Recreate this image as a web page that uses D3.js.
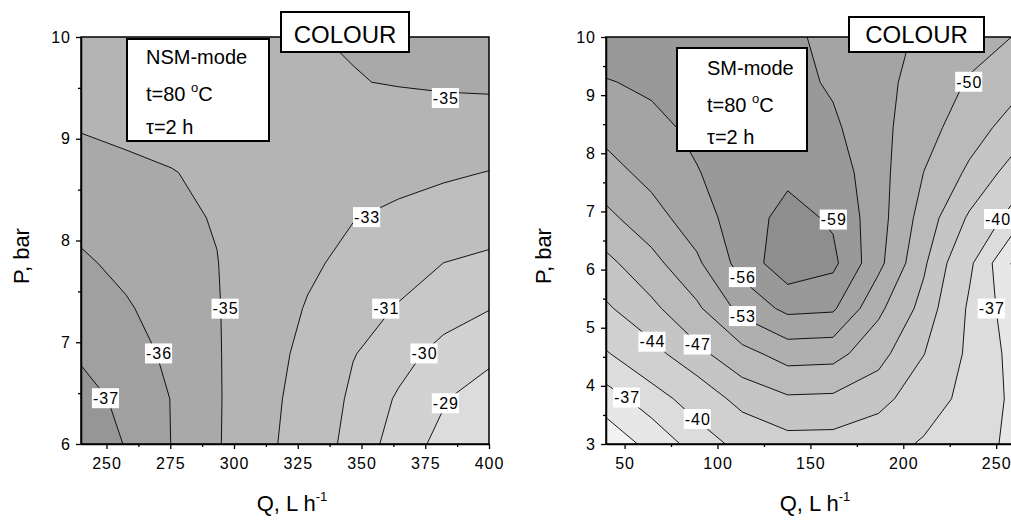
<!DOCTYPE html>
<html><head><meta charset="utf-8">
<script src="https://cdn.jsdelivr.net/npm/d3@7"></script>
<style>
body{margin:0;background:#fff;}
svg{display:block;font-family:Arial,"Liberation Sans",Helvetica,sans-serif;}
</style>
</head><body>
<svg id="chart" width="1011" height="522"></svg>
<script>
// ---------- DATA: left panel (NSM-mode) ----------
const leftLevels = [-37, -36, -35, -33, -31, -30, -29];
const leftColors = ["#969696", "#a0a0a0", "#a9a9a9", "#b4b4b4", "#bebebe", "#c8c8c8", "#d2d2d2", "#dcdcdc"];
const leftQ = [240, 257.8, 275.6, 293.3, 311.1, 328.9, 346.7, 364.4, 382.2, 400];
const leftP = [6, 6.444, 6.889, 7.333, 7.778, 8.222, 8.667, 9.111, 9.556, 10];
// rows follow leftP (bottom to top), columns follow leftQ
const leftZ = [
  [-37.85, -36.93, -35.98, -35.15, -33.59, -31.86, -30.55, -29.62, -28.64, -28.0],
  [-37.43, -36.70, -35.97, -35.16, -33.71, -32.11, -30.74, -29.89, -29.10, -28.2],
  [-36.85, -36.36, -35.82, -35.13, -33.85, -32.46, -31.06, -30.36, -29.68, -29.4],
  [-36.49, -36.09, -35.61, -35.09, -34.03, -32.87, -31.78, -30.88, -30.44, -30.03],
  [-36.13, -35.78, -35.40, -35.03, -34.19, -33.31, -32.51, -31.76, -30.99, -30.7],
  [-35.75, -35.49, -35.23, -34.93, -34.31, -33.68, -33.06, -32.6, -32.15, -31.7],
  [-35.35, -35.2, -35.04, -34.78, -34.47, -34.17, -33.86, -33.56, -33.25, -32.95],
  [-34.95, -34.8, -34.65, -34.5, -34.35, -34.2, -34.1, -34.1, -34.1, -34.17],
  [-34.5, -34.4, -34.35, -34.4, -34.55, -34.75, -34.93, -35.1, -35.25, -35.3],
  [-34.3, -34.3, -34.4, -34.55, -34.75, -34.93, -35.12, -35.3, -35.45, -35.55]
];
const leftXTicks = [250, 275, 300, 325, 350, 375, 400];
const leftXMinor = [262.5, 287.5, 312.5, 337.5, 362.5, 387.5];
const leftYTicks = [6, 7, 8, 9, 10];
const leftYMinor = [6.5, 7.5, 8.5, 9.5];
const leftLabels = [
  {t: "-37", q: 249.8, p: 6.45}, {t: "-36", q: 270.6, p: 6.89}, {t: "-35", q: 296.7, p: 7.33},
  {t: "-31", q: 359.7, p: 7.33}, {t: "-30", q: 374.7, p: 6.89}, {t: "-29", q: 383.1, p: 6.40},
  {t: "-33", q: 352.2, p: 8.23}, {t: "-35", q: 383.1, p: 9.40}
];
const leftInfo = ["NSM-mode", "t=80 ", "τ=2 h"];

// ---------- DATA: right panel (SM-mode) ----------
const rightLevels = [-59, -56, -53, -50, -47, -44, -40, -37, -34];
const rightColors = ["#8e8e8e", "#999999", "#a4a4a4", "#afafaf", "#bababa", "#c5c5c5", "#d0d0d0", "#dcdcdc", "#e7e7e7", "#f2f2f2"];
const rightQ = [40, 64.4, 88.9, 113.3, 137.8, 162.2, 186.7, 211.1, 235.6, 260];
const rightP = [3, 3.778, 4.556, 5.333, 6.111, 6.889, 7.667, 8.444, 9.222, 10];
const rightZ = [
  [-31.6, -35.06, -38.14, -41.1, -42.9, -42.85, -41.5, -39.6, -38.05, -36.44],
  [-35.7, -38.43, -41.68, -45.2, -46.6, -46.45, -45.2, -41.8, -38.84, -36.45],
  [-39.7, -42.92, -46.22, -49.01, -51.27, -51.07, -48.04, -44.08, -39.27, -36.1],
  [-43.55, -46.31, -49.47, -53.98, -56.75, -56.44, -50.66, -46.0, -39.48, -35.25],
  [-46.23, -49.04, -52.46, -57.21, -61.0, -59.7, -53.81, -47.46, -40.64, -33.4],
  [-49.25, -51.8, -54.63, -57.56, -60.0, -58.6, -54.2, -48.73, -43.56, -38.46],
  [-51.86, -53.92, -55.86, -57.4, -58.33, -57.66, -54.08, -49.96, -46.45, -42.58],
  [-53.96, -55.26, -56.6, -57.0, -57.3, -56.5, -53.89, -51.13, -48.38, -45.7],
  [-55.83, -56.5, -57.0, -57.2, -57.0, -55.6, -53.85, -51.9, -49.74, -47.97],
  [-57.7, -57.9, -58.0, -57.6, -56.6, -55.2, -53.93, -52.6, -51.24, -49.9]
];
const rightXTicks = [50, 100, 150, 200, 250];
const rightXMinor = [75, 125, 175, 225];
const rightYTicks = [3, 4, 5, 6, 7, 8, 9, 10];
const rightYMinor = [3.5, 4.5, 5.5, 6.5, 7.5, 8.5, 9.5];
const rightLabels = [
  {t: "-59", q: 162.6, p: 6.86}, {t: "-56", q: 113.7, p: 5.87}, {t: "-53", q: 113.7, p: 5.20},
  {t: "-47", q: 89.4, p: 4.71}, {t: "-44", q: 65.0, p: 4.76}, {t: "-37", q: 51.3, p: 3.80},
  {t: "-40", q: 89.4, p: 3.43}, {t: "-50", q: 235.5, p: 9.23}, {t: "-40", q: 251.0, p: 6.87},
  {t: "-37", q: 247.6, p: 5.33}
];
const rightInfo = ["SM-mode", "t=80 ", "τ=2 h"];

// ---------- DRAWING ----------
const svg = d3.select("#chart");
const FONT = 'Arial,"Liberation Sans",Helvetica,sans-serif';

function panel(cfg) {
  const g = svg.append("g");
  const x = d3.scaleLinear().domain(cfg.xDomain).range([cfg.left, cfg.right]);
  const y = d3.scaleLinear().domain(cfg.yDomain).range([cfg.bottom, cfg.top]);
  const nx = cfg.Q.length, ny = cfg.P.length;
  const q0 = cfg.Q[0], dq = (cfg.Q[nx - 1] - q0) / (nx - 1);
  const p0 = cfg.P[0], dp = (cfg.P[ny - 1] - p0) / (ny - 1);
  const values = cfg.Z.flat();
  const proj = d3.geoTransform({
    point(gx, gy) { this.stream.point(x(q0 + (gx - 0.5) * dq), y(p0 + (gy - 0.5) * dp)); }
  });
  const path = d3.geoPath(proj);
  const contours = d3.contours().size([nx, ny]).thresholds(cfg.levels)(values);

  const clipId = "clip" + cfg.id;
  svg.append("defs").append("clipPath").attr("id", clipId)
    .append("rect").attr("x", cfg.left).attr("y", cfg.top)
    .attr("width", cfg.right - cfg.left).attr("height", cfg.bottom - cfg.top);

  const plot = g.append("g").attr("clip-path", `url(#${clipId})`);
  plot.append("rect").attr("x", cfg.left).attr("y", cfg.top)
    .attr("width", cfg.right - cfg.left).attr("height", cfg.bottom - cfg.top)
    .attr("fill", cfg.colors[0]);
  plot.selectAll("path.band").data(contours).join("path")
    .attr("class", "band").attr("d", path).attr("fill", (d, i) => cfg.colors[i + 1]);
  plot.selectAll("path.iso").data(contours).join("path")
    .attr("class", "iso").attr("d", path).attr("fill", "none")
    .attr("stroke", "#000").attr("stroke-width", 0.9).attr("stroke-linejoin", "round");

  // contour labels
  const lab = plot.selectAll("g.lab").data(cfg.labels).join("g")
    .attr("class", "lab").attr("transform", d => `translate(${x(d.q)},${y(d.p)})`);
  lab.each(function(d) {
    const s = d3.select(this);
    const rect = s.append("rect").attr("fill", "#fff");
    const t = s.append("text").text(d.t).attr("text-anchor", "middle")
      .attr("dy", "0.36em").attr("font-size", 16).attr("letter-spacing", "1px")
      .attr("font-family", FONT).attr("fill", "#000");
    const bb = t.node().getBBox();
    rect.attr("x", bb.x - 1).attr("y", -10).attr("width", bb.width + 1).attr("height", 20);
  });

  // frame
  g.append("rect").attr("x", cfg.left).attr("y", cfg.top)
    .attr("width", cfg.right - cfg.left).attr("height", cfg.bottom - cfg.top)
    .attr("fill", "none").attr("stroke", "#000").attr("stroke-width", 1.5);

  // axes
  const fmt = d3.format("d");
  const ax = g.append("g").attr("transform", `translate(0,${cfg.bottom})`)
    .call(d3.axisBottom(x).tickValues(cfg.xTicks).tickFormat(fmt).tickSize(5).tickPadding(9).tickSizeOuter(0));
  const axm = g.append("g").attr("transform", `translate(0,${cfg.bottom})`)
    .call(d3.axisBottom(x).tickValues(cfg.xMinor).tickSize(3).tickFormat("").tickSizeOuter(0));
  const ay = g.append("g").attr("transform", `translate(${cfg.left},0)`)
    .call(d3.axisLeft(y).tickValues(cfg.yTicks).tickFormat(fmt).tickSize(5).tickPadding(5).tickSizeOuter(0));
  const aym = g.append("g").attr("transform", `translate(${cfg.left},0)`)
    .call(d3.axisLeft(y).tickValues(cfg.yMinor).tickSize(3).tickFormat("").tickSizeOuter(0));
  [ax, axm, ay, aym].forEach(a => {
    a.select(".domain").attr("stroke-width", 1.5);
    a.selectAll(".tick line").attr("stroke-width", 1.3);
    a.selectAll("text").attr("font-size", 16).attr("font-family", FONT)
      .attr("letter-spacing", "1px").attr("fill", "#000");
  });
  axm.select(".domain").remove();
  aym.select(".domain").remove();

  // axis titles
  g.append("text").attr("transform", `translate(${cfg.yTitleX},256) rotate(-90)`)
    .attr("text-anchor", "middle").attr("font-size", 22).attr("font-family", FONT)
    .text("P, bar");
  const xt = g.append("text").attr("x", cfg.xTitleX).attr("y", 511)
    .attr("text-anchor", "middle").attr("font-size", 22).attr("font-family", FONT);
  xt.append("tspan").text("Q, L h");
  xt.append("tspan").attr("font-size", 13).attr("dy", -10).text("-1");

  // COLOUR box
  const cb = cfg.colourBox;
  g.append("rect").attr("x", cb.x).attr("y", cb.y).attr("width", cb.w).attr("height", cb.h)
    .attr("fill", "#fff").attr("stroke", "#000").attr("stroke-width", 2);
  g.append("text").attr("x", cb.x + cb.w / 2).attr("y", cb.y + cb.h - 9.5)
    .attr("text-anchor", "middle").attr("font-size", 24).attr("font-family", FONT).text("COLOUR");

  // info box
  const ib = cfg.infoBox;
  g.append("rect").attr("x", ib.x).attr("y", ib.y).attr("width", ib.w).attr("height", ib.h)
    .attr("fill", "#fff").attr("stroke", "#000").attr("stroke-width", 2);
  const lines = cfg.info;
  g.append("text").attr("x", ib.tx).attr("y", ib.b[0]).attr("font-size", 20)
    .attr("font-family", FONT).text(lines[0]);
  const t2 = g.append("text").attr("x", ib.tx).attr("y", ib.b[1]).attr("font-size", 20)
    .attr("font-family", FONT).attr("xml:space", "preserve");
  t2.append("tspan").text(lines[1]);
  t2.append("tspan").attr("font-size", 13).attr("dy", -9).text("o");
  t2.append("tspan").attr("dy", 9).text("C");
  g.append("text").attr("x", ib.tx).attr("y", ib.b[2]).attr("font-size", 20)
    .attr("font-family", FONT).text(lines[2]);
}

panel({
  id: "L", left: 81, right: 489, top: 37, bottom: 444,
  xDomain: [240, 400], yDomain: [6, 10],
  Q: leftQ, P: leftP, Z: leftZ, levels: leftLevels, colors: leftColors,
  xTicks: leftXTicks, xMinor: leftXMinor, yTicks: leftYTicks, yMinor: leftYMinor,
  labels: leftLabels, info: leftInfo,
  yTitleX: 29, xTitleX: 292,
  colourBox: {x: 281, y: 12, w: 128, h: 40},
  infoBox: {x: 127, y: 39, w: 142, h: 102, tx: 146, b: [64, 101, 134]}
});

panel({
  id: "R", left: 606, right: 606 + 220 * 1.858, top: 37, bottom: 444,
  xDomain: [40, 260], yDomain: [3, 10],
  Q: rightQ, P: rightP, Z: rightZ, levels: rightLevels, colors: rightColors,
  xTicks: rightXTicks, xMinor: rightXMinor, yTicks: rightYTicks, yMinor: rightYMinor,
  labels: rightLabels, info: rightInfo,
  yTitleX: 551, xTitleX: 815,
  colourBox: {x: 849, y: 17, w: 135, h: 35},
  infoBox: {x: 677, y: 48, w: 130, h: 103, tx: 707, b: [75, 112, 144]}
});
</script>
</body></html>
